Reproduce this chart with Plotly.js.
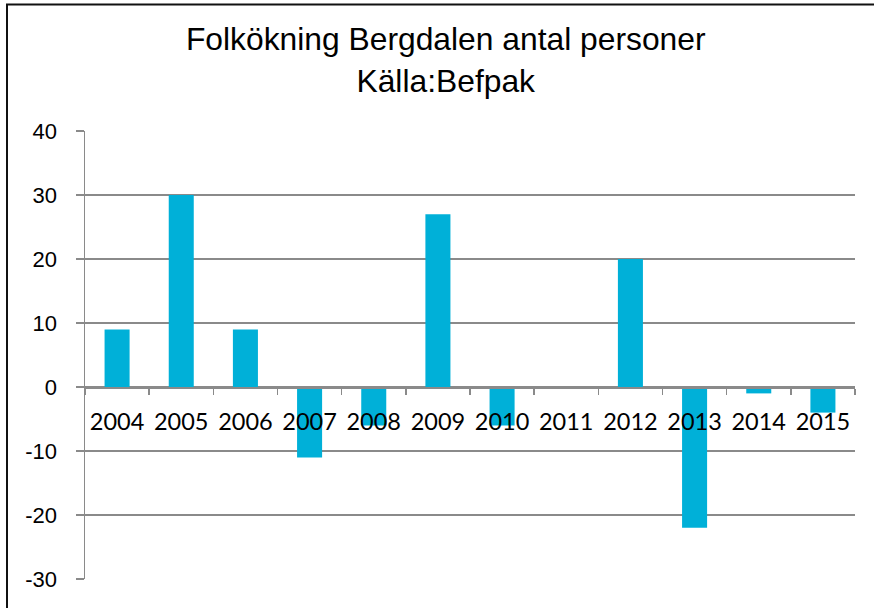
<!DOCTYPE html>
<html>
<head>
<meta charset="utf-8">
<script src="https://cdn.plot.ly/plotly-3.0.1.min.js"></script>
<style>
html,body{margin:0;padding:0;background:#fff;}
#chart{width:874px;height:608px;}
</style>
</head>
<body>
<div id="chart"></div>
<script>
const years = ["2004","2005","2006","2007","2008","2009","2010","2011","2012","2013","2014","2015"];
const growth = [9, 30, 9, -11, -6, 27, -6, 0, 20, -22, -1, -4];
const titleLines = ["Folkökning Bergdalen antal personer", "Källa:Befpak"];
const yTicks = [-30, -20, -10, 0, 10, 20, 30, 40];

const trace = {
  type: 'bar',
  x: years,
  y: growth,
  marker: {color: '#00b0d8'},
  hoverinfo: 'x+y'
};

const layout = {
  width: 874,
  height: 608,
  margin: {l: 85, r: 19, t: 131, b: 29, pad: 0},
  paper_bgcolor: '#ffffff',
  plot_bgcolor: '#ffffff',
  showlegend: false,
  bargap: 0.61,
  title: {
    text: titleLines.join('<br>'),
    font: {family: 'Liberation Sans, Arial, sans-serif', size: 31.8, color: '#000'},
    x: 0.51,
    xref: 'container',
    xanchor: 'center',
    y: 0.917,
    yref: 'container',
    yanchor: 'top'
  },
  xaxis: {
    type: 'category',
    anchor: 'free',
    position: 30 / 70,
    showline: true,
    linecolor: '#8a8a8a',
    linewidth: 1.5,
    showgrid: false,
    zeroline: false,
    ticks: 'outside',
    tickson: 'boundaries',
    ticklen: 6,
    tickwidth: 1.5,
    tickcolor: '#8a8a8a',
    ticklabelstandoff: 13,
    tickfont: {family: 'Lato, Open Sans, sans-serif', size: 23.5, color: '#000'},
    fixedrange: true
  },
  yaxis: {
    range: [-30, 40],
    tickvals: yTicks,
    ticktext: yTicks.map(String),
    showline: true,
    linecolor: '#8a8a8a',
    linewidth: 1.5,
    showgrid: true,
    gridcolor: '#8a8a8a',
    gridwidth: 1.5,
    zeroline: false,
    ticks: 'outside',
    ticklen: 8,
    tickwidth: 1.5,
    tickcolor: '#8a8a8a',
    ticklabelstandoff: 14,
    tickfont: {family: 'Liberation Sans, Arial, sans-serif', size: 22, color: '#000'},
    fixedrange: true
  },
  shapes: [{
    type: 'rect',
    xref: 'paper', yref: 'paper',
    x0: (7 - 85) / 770, x1: (890 - 85) / 770,
    y0: (579 - 620) / 448, y1: (579 - 4.5) / 448,
    line: {color: '#111', width: 2},
    fillcolor: 'rgba(0,0,0,0)',
    layer: 'above'
  }]
};

Plotly.newPlot('chart', [trace], layout, {displayModeBar: false, staticPlot: true});
</script>
</body>
</html>
